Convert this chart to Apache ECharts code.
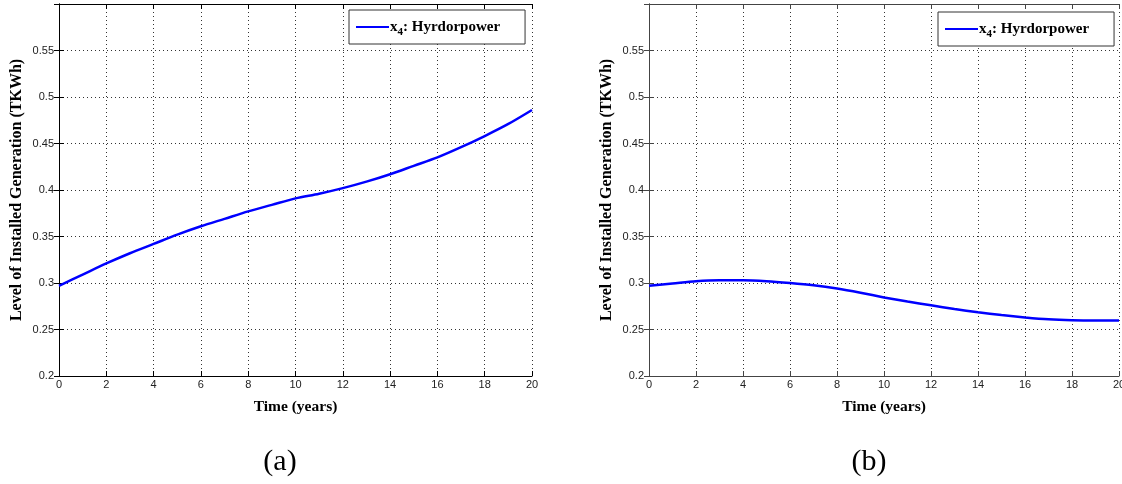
<!DOCTYPE html>
<html>
<head>
<meta charset="utf-8">
<script src="https://cdn.jsdelivr.net/npm/echarts@6/dist/echarts.min.js"></script>
<style>
html,body{margin:0;padding:0;background:#fff;}
#chart{width:1122px;height:484px;}
</style>
</head>
<body>
<div id="chart"></div>
<script>
// ---- data ----
const years = [0,1,2,3,4,5,6,7,8,9,10,11,12,13,14,15,16,17,18,19,20];
const hydroA = [0.297,0.309,0.321,0.332,0.342,0.352,0.361,0.369,0.377,0.384,0.391,0.396,0.402,0.409,0.417,0.426,0.435,0.446,0.458,0.471,0.486];
const hydroB = [0.297,0.2995,0.302,0.303,0.303,0.302,0.300,0.2975,0.294,0.2895,0.2845,0.280,0.276,0.272,0.2685,0.2655,0.263,0.261,0.260,0.2597,0.2598];
const xTicks = [0,2,4,6,8,10,12,14,16,18,20];
const yTicks = [0.2,0.25,0.3,0.35,0.4,0.45,0.5,0.55];
const seriesName = 'x4: Hyrdorpower';
const xTitle = 'Time (years)';
const yTitle = 'Level of Installed Generation (TKWh)';
const panelLabels = ['(a)', '(b)'];

const chart = echarts.init(document.getElementById('chart'));

const grids = [
  {left: 59, top: 4, width: 473, height: 372},
  {left: 649, top: 4, width: 470, height: 372}
];
const frameColors = ['#000', '#444'];

const tickFont = {fontFamily: 'Liberation Sans, Arial', fontSize: 11, color: '#222'};
const serif = 'Liberation Serif, Times New Roman';

const xAxes = [], yAxes = [], series = [], legends = [];
[hydroA, hydroB].forEach((vals, i) => {
  const fc = frameColors[i];
  xAxes.push({
    type: 'value', gridIndex: i, min: 0, max: 20, interval: 2, position: 'bottom',
    name: xTitle, nameLocation: 'middle', nameGap: 23,
    nameTextStyle: {fontFamily: serif, fontWeight: 'bold', fontSize: 15.5, color: '#000'},
    axisLine: {show: true, lineStyle: {color: fc, width: 1}},
    axisTick: {show: true, inside: true, length: 5, lineStyle: {color: fc}},
    axisLabel: Object.assign({margin: 3, formatter: v => xTicks.includes(v) ? String(v) : ''}, tickFont),
    splitLine: {show: true, lineStyle: {color: '#333', width: 1, type: [1, 3]}}
  });
  xAxes.push({
    type: 'value', gridIndex: i, min: 0, max: 20, interval: 2, position: 'top',
    axisLine: {show: true, lineStyle: {color: fc, width: 1}},
    axisTick: {show: true, inside: true, length: 5, lineStyle: {color: fc}},
    axisLabel: {show: false}, splitLine: {show: false}
  });
  yAxes.push({
    type: 'value', gridIndex: i, min: 0.2, max: 0.6, interval: 0.05, position: 'left',
    name: yTitle, nameLocation: 'middle', nameGap: 34, nameRotate: 90,
    nameTextStyle: {fontFamily: serif, fontWeight: 'bold', fontSize: 16, color: '#000'},
    axisLine: {show: true, lineStyle: {color: fc, width: 1}},
    axisTick: {show: true, inside: true, length: 5, lineStyle: {color: fc}},
    axisLabel: Object.assign({margin: 5, formatter: v => {
      const r = Math.round(v * 100) / 100;
      return yTicks.some(t => Math.abs(t - r) < 1e-9) ? String(r) : '';
    }}, tickFont),
    splitLine: {show: true, lineStyle: {color: '#333', width: 1, type: [1, 3]}}
  });
  yAxes.push({
    type: 'value', gridIndex: i, min: 0.2, max: 0.6, interval: 0.05, position: 'right',
    axisLine: {show: true, lineStyle: {color: fc, width: 1}},
    axisTick: {show: true, inside: true, length: 5, lineStyle: {color: fc}},
    axisLabel: {show: false}, splitLine: {show: false}
  });
  series.push({
    type: 'line', name: seriesName + ' ' + i, xAxisIndex: i * 2, yAxisIndex: i * 2,
    data: years.map((x, k) => [x, vals[k]]),
    smooth: 0.3, showSymbol: false, symbol: 'none',
    lineStyle: {color: '#0000ff', width: 2.5}, itemStyle: {color: '#0000ff'},
    z: 5
  });
  legends.push({
    data: [seriesName + ' ' + i],
    left: i === 0 ? 349 : 938, top: i === 0 ? 10 : 12,
    orient: 'vertical',
    backgroundColor: '#fff', borderColor: '#333', borderWidth: 1,
    padding: [6, 25, 6, 7],
    icon: 'rect', itemWidth: 33, itemHeight: 2, itemGap: 0,
    formatter: () => '{a|x}{s|4}{a|: Hyrdorpower}',
    textStyle: {
      padding: [0, 0, 0, -4],
      rich: {
        a: {fontFamily: serif, fontWeight: 'bold', fontSize: 15, color: '#000', lineHeight: 22},
        s: {fontFamily: serif, fontWeight: 'bold', fontSize: 11, color: '#000', padding: [11, 0, 0, 0], lineHeight: 22}
      }
    },
    z: 10
  });
});

chart.setOption({
  animation: false,
  backgroundColor: '#fff',
  grid: grids.map(g => Object.assign({containLabel: false, outerBoundsMode: 'none'}, g)),
  xAxis: xAxes,
  yAxis: yAxes,
  legend: legends,
  series: series,
  graphic: [
    {type: 'text', x: 280, y: 462, style: {text: panelLabels[0], align: 'center', verticalAlign: 'middle', font: '30px "Liberation Serif", "Times New Roman"', fill: '#000'}},
    {type: 'text', x: 869, y: 462, style: {text: panelLabels[1], align: 'center', verticalAlign: 'middle', font: '30px "Liberation Serif", "Times New Roman"', fill: '#000'}}
  ]
});
</script>
</body>
</html>
